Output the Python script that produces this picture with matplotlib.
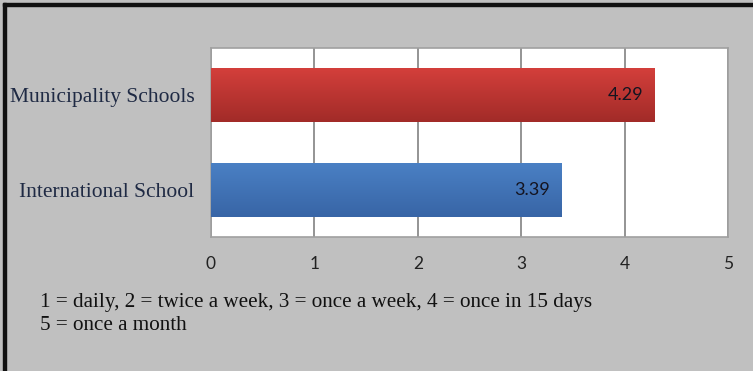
import matplotlib.pyplot as plt
import numpy as np
from matplotlib.patches import Rectangle

# data
categories = ["International School", "Municipality Schools"]
scores = [3.39, 4.29]
score_labels = ["3.39", "4.29"]
xticks = [0, 1, 2, 3, 4, 5]
note_lines = ["1 = daily, 2 = twice a week, 3 = once a week, 4 = once in 15 days",
              "5 = once a month"]

# gradient colours (top, bottom) per bar
bar_grad = [("#4a80c4", "#3865a6"), ("#d33f3b", "#a22b28")]

fig = plt.figure(figsize=(7.53, 3.71), dpi=100)
fig.patch.set_facecolor("#c0c0c0")

# black frame on left and top like the screenshot
fig.add_artist(Rectangle((3 / 753, 0), 3 / 753, 1 - 3 / 371, transform=fig.transFigure,
                         color="#111111", zorder=10))
fig.add_artist(Rectangle((3 / 753, 1 - 6 / 371), 1, 3 / 371, transform=fig.transFigure,
                         color="#111111", zorder=10))

ax = fig.add_axes([211 / 753, 134 / 371, 517 / 753, 189 / 371])
ax.set_facecolor("white")

y = np.arange(len(categories))
bars = ax.barh(y, scores, height=0.57, color="none", zorder=3)

# vertical gradient on each bar (light at top, dark at bottom)
grad = np.linspace(0, 1, 64).reshape(-1, 1)
for b, (top, bot) in zip(bars, bar_grad):
    c1 = np.array(plt.matplotlib.colors.to_rgb(top))
    c2 = np.array(plt.matplotlib.colors.to_rgb(bot))
    img = c1 + (c2 - c1) * grad[:, :, None]
    x0, y0 = b.get_x(), b.get_y()
    w, h = b.get_width(), b.get_height()
    im = ax.imshow(img, extent=[x0, x0 + w, y0, y0 + h], aspect="auto", zorder=3,
                   interpolation="bilinear", origin="upper")
    im.set_clip_path(b)

for yi, s, lab in zip(y, scores, score_labels):
    ax.text(s - 0.11, yi, lab, ha="right", va="center", fontsize=13,
            family="Lato", color="#141420", zorder=5)

ax.set_xlim(0, 5)
ax.set_ylim(-0.5, 1.5)
ax.set_xticks(xticks)
ax.set_xticklabels([str(t) for t in xticks], family="Lato", fontsize=12.5, color="#222222")
ax.set_yticks(y)
ax.set_yticklabels(categories, family="Liberation Serif", fontsize=15.5, color="#1f2a44")
ax.tick_params(length=0)
ax.tick_params(axis="x", pad=14)
ax.tick_params(axis="y", pad=12)
ax.xaxis.grid(True, color="#777777", linewidth=1.1, zorder=1)
ax.set_axisbelow(True)
for sp in ax.spines.values():
    sp.set_color("#a0a0a0")
    sp.set_linewidth(1.2)

fig.text(40 / 753, 1 - 303 / 371, note_lines[0], family="Liberation Serif",
         fontsize=15.2, color="#111111", va="center", ha="left")
fig.text(40 / 753, 1 - 326 / 371, note_lines[1], family="Liberation Serif",
         fontsize=15.2, color="#111111", va="center", ha="left")

fig.savefig("out.png", dpi=100, facecolor=fig.get_facecolor())
